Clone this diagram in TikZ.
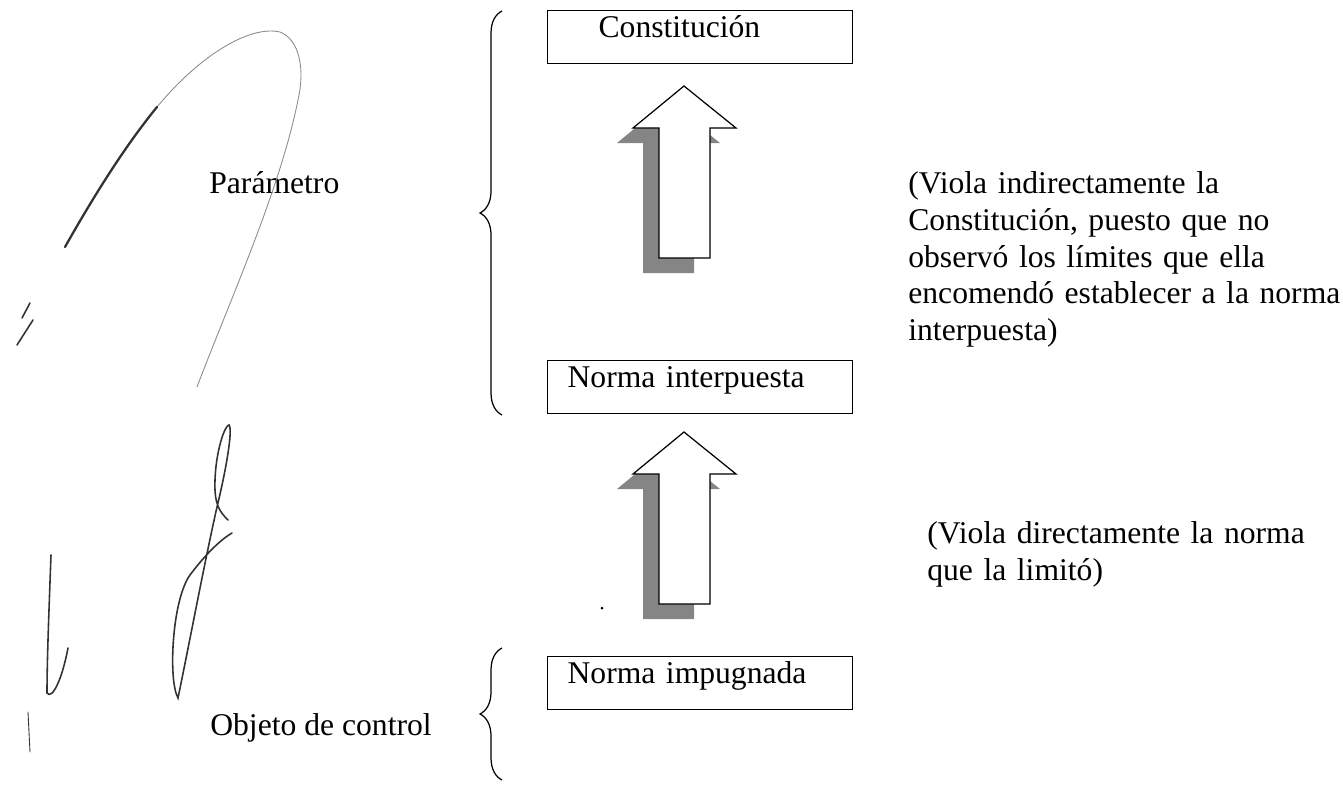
\documentclass[tikz,border=0pt]{standalone}
\usepackage{fontspec}
\setmainfont{Liberation Serif}
\usetikzlibrary{decorations.pathreplacing}
\newcommand{\flecha}[1]{%
  \begin{scope}[shift={(#1)}]
    \fill[sombra] (-16,15) -- (36,57) -- (10,57) -- (10,187) -- (-41,187) -- (-41,57) -- (-67,57) -- cycle;
    \draw[cuerpo] (0,0) -- (52,42) -- (26,42) -- (26,172) -- (-25,172) -- (-25,42) -- (-51,42) -- cycle;
  \end{scope}}

\begin{document}
\begin{tikzpicture}[x=0.02cm,y=-0.02cm,font=\fontsize{18}{21}\selectfont,
  caja/.style={draw,line width=0.7pt,anchor=north west,text width=5.3cm,align=left,
    inner xsep=0.4cm,inner ysep=0pt,text height=0.54cm,text depth=0.52cm},
  etiqueta/.style={anchor=base west,inner sep=0pt},
  nota/.style={anchor=north west,inner sep=0pt,text width=9cm,align=left},
  sombra/.style={fill=black!48},
  cuerpo/.style={draw,fill=white,line width=0.7pt,line join=miter},
  llave/.style={decorate,decoration={brace,amplitude=12.5pt},line width=0.7pt},
  trazo/.style={line width=0.9pt,black!80,line cap=round},
  tenue/.style={line width=0.5pt,black!45}]
\useasboundingbox (0,0) rectangle (1343,785);
%cajas
\node[caja] (const) at (547,10) {\hspace*{0.62cm}Constitución};
\node[caja] (inter) at (547,360) {Norma interpuesta};
\node[caja] (impug) at (547,656) {Norma impugnada};
%flechas
\flecha{684,86}
\flecha{684,432}
\fill (602,608) circle (1.5);
%llaves
\draw[llave] (502,415) -- (502,11);
\draw[llave] (502,780) -- (502,648);
\node[etiqueta] (param) at (209,193) {Parámetro};
\node[etiqueta] (objeto) at (210,735) {Objeto de control};
%notas
\node[nota] (nota1) at (908,171) {(Viola indirectamente la\\Constitución, puesto que no\\observó los límites que ella\\encomendó establecer a la norma\\interpuesta)};
\node[nota] (nota2) at (927,521) {(Viola directamente la norma\\que la limitó)};
%firmas
\draw[tenue] (157,107) .. controls (200,55) and (250,25) .. (280,32) .. controls (300,40) and (305,70) .. (298,100) .. controls (280,190) and (230,300) .. (197,387);
\draw[trazo,line width=1.3pt] (65,247) .. controls (100,185) and (130,140) .. (157,107);
\draw[trazo] (22,318) -- (30,303);
\draw[trazo] (17,345) -- (33,320);
\draw[trazo] (51,555) .. controls (49,610) and (47,660) .. (47,693) .. controls (52,700) and (62,680) .. (68,648);
\draw[trazo,line width=0.5pt] (28,712) -- (30,752);
\draw[trazo] (228,520) .. controls (220,512) and (214,505) .. (215,480) .. controls (216,450) and (225,425) .. (229,425) .. controls (233,430) and (226,470) .. (217,507) .. controls (205,560) and (190,640) .. (178,698) .. controls (168,680) and (172,600) .. (190,575) .. controls (205,555) and (220,540) .. (232,533);
\end{tikzpicture}
\end{document}
